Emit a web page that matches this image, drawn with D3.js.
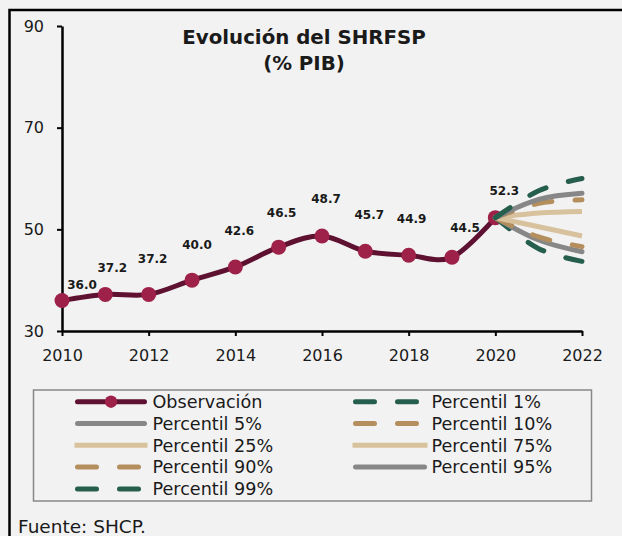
<!DOCTYPE html>
<html>
<head>
<meta charset="utf-8">
<script src="https://cdn.jsdelivr.net/npm/d3@7"></script>
<style>
  body { margin: 0; background: #f2f2f2; }
  svg { display: block; }
  text { font-family: "DejaVu Sans", sans-serif; fill: #1a1a1a; }
</style>
</head>
<body>
<svg id="chart" width="622" height="536"></svg>
<script>
// observed debt (% of GDP)
let years = [2010, 2011, 2012, 2013, 2014, 2015, 2016, 2017, 2018, 2019, 2020];
let observed = [36.0, 37.2, 37.2, 40.0, 42.6, 46.5, 48.7, 45.7, 44.9, 44.5, 52.3];

// fan chart: values for 2020, 2021, 2022
let fanYears = [2020, 2021, 2022];
let p1  = [52.3, 46.2, 43.7];
let p5  = [52.3, 47.9, 45.6];
let p10 = [52.3, 48.5, 46.6];
let p25 = [52.3, 50.5, 48.7];
let p75 = [52.3, 53.2, 53.5];
let p90 = [52.3, 55.1, 55.8];
let p95 = [52.3, 55.9, 57.1];
let p99 = [52.3, 57.6, 60.0];

let xTicks = [2010, 2012, 2014, 2016, 2018, 2020, 2022];
let yTicks = [30, 50, 70, 90];

// label nudges [dx, dy] relative to each point
let labelNudge = [[20, -12], [7, -22], [4, -31], [5, -31], [4, -32], [3, -30],
                  [4, -33], [4, -32], [3, -32], [13, -25], [9, -23]];

let green = "#265e4d", grey = "#878787", tan = "#b48e5c", light = "#d8c29d";
let series = [
    {name: "Percentil 1%",  values: p1,  color: green, dash: true},
    {name: "Percentil 5%",  values: p5,  color: grey,  dash: false},
    {name: "Percentil 10%", values: p10, color: tan,   dash: true},
    {name: "Percentil 25%", values: p25, color: light, dash: false},
    {name: "Percentil 75%", values: p75, color: light, dash: false},
    {name: "Percentil 90%", values: p90, color: tan,   dash: true},
    {name: "Percentil 95%", values: p95, color: grey,  dash: false},
    {name: "Percentil 99%", values: p99, color: green, dash: true}
];

let svg = d3.select("#chart");

// outer frame
svg.append("rect").attr("x", 9.5).attr("y", 10).attr("width", 640).attr("height", 560)
    .attr("fill", "#f2f2f2").attr("stroke", "#000").attr("stroke-width", 2.5);

let x = d3.scaleLinear().domain([2010, 2022]).range([62, 582]);
let y = d3.scaleLinear().domain([30, 90]).range([331, 26]);

let yAxis = svg.append("g").attr("transform", "translate(62,0)")
    .call(d3.axisLeft(y).tickValues(yTicks).tickSize(5).tickSizeOuter(0).tickPadding(13));
let xAxis = svg.append("g").attr("transform", "translate(0,331)")
    .call(d3.axisBottom(x).tickValues(xTicks).tickFormat(d3.format("d")).tickSize(5).tickSizeOuter(0).tickPadding(14));

[yAxis, xAxis].forEach(a => {
    a.select(".domain").attr("stroke", "#000").attr("stroke-width", 2.5);
    a.selectAll(".tick line").attr("stroke", "#000").attr("stroke-width", 2);
    a.selectAll(".tick text").attr("font-size", 16).attr("fill", "#1a1a1a")
        .attr("font-family", "DejaVu Sans, sans-serif");
});

// title
svg.append("text").attr("x", 304).attr("y", 44).attr("text-anchor", "middle")
    .attr("font-size", 19.8).attr("font-weight", "bold").text("Evolución del SHRFSP");
svg.append("text").attr("x", 304).attr("y", 70).attr("text-anchor", "middle")
    .attr("font-size", 19.8).attr("font-weight", "bold").text("(% PIB)");

let line = d3.line().x(d => x(d[0])).y(d => y(d[1])).curve(d3.curveCardinal.tension(0));

let obsData = years.map((yr, i) => [yr, observed[i]]);
svg.append("path").datum(obsData).attr("d", line)
    .attr("fill", "none").attr("stroke", "#5e1130").attr("stroke-width", 5);
svg.selectAll(".dot").data(obsData).enter().append("circle").attr("class", "dot")
    .attr("cx", d => x(d[0])).attr("cy", d => y(d[1])).attr("r", 7.5)
    .attr("fill", "#9e2149");

svg.selectAll(".lbl").data(obsData).enter().append("text").attr("class", "lbl")
    .attr("x", (d, i) => x(d[0]) + labelNudge[i][0])
    .attr("y", (d, i) => y(d[1]) + labelNudge[i][1])
    .attr("text-anchor", "middle").attr("font-size", 12).attr("font-weight", "bold")
    .attr("fill", "#111").text(d => d[1].toFixed(1));

// fan lines
series.forEach(s => {
    let data = fanYears.map((yr, i) => [yr, s.values[i]]);
    svg.append("path").datum(data).attr("d", line)
        .attr("fill", "none").attr("stroke", s.color).attr("stroke-width", 5)
        .attr("stroke-linecap", s.color == light ? "butt" : "round")
        .attr("stroke-dasharray", s.dash ? "18,23" : null);
});

// legend
svg.append("rect").attr("x", 33.5).attr("y", 390).attr("width", 558).attr("height", 111)
    .attr("fill", "none").attr("stroke", "#888").attr("stroke-width", 1.5);

let legendItems = [{name: "Observación", color: "#5e1130", dash: false, obs: true}].concat(series);
let cols = [{x0: 77.5, x1: 144.5, tx: 152.5}, {x0: 355.5, x1: 424.5, tx: 431.5}];

legendItems.forEach((s, i) => {
    let c = cols[i % 2];
    let ry = 401.7 + Math.floor(i / 2) * 21.8;
    let butt = s.color == light;
    svg.append("line")
        .attr("x1", butt ? c.x0 - 3 : c.x0).attr("x2", butt ? c.x1 + 3 : c.x1)
        .attr("y1", ry).attr("y2", ry)
        .attr("stroke", s.color).attr("stroke-width", 5)
        .attr("stroke-linecap", butt ? "butt" : "round")
        .attr("stroke-dasharray", s.dash ? "19,23" : null);
    if (s.obs) {
        svg.append("circle").attr("cx", (c.x0 + c.x1) / 2).attr("cy", ry).attr("r", 6.2)
            .attr("fill", "#9e2149");
    }
    svg.append("text").attr("x", c.tx).attr("y", ry).attr("dy", "0.36em")
        .attr("font-size", 17.6).attr("fill", "#222").text(s.name);
});

svg.append("text").attr("x", 18).attr("y", 533).attr("font-size", 18.5)
    .attr("fill", "#222").text("Fuente: SHCP.");
</script>
</body>
</html>
